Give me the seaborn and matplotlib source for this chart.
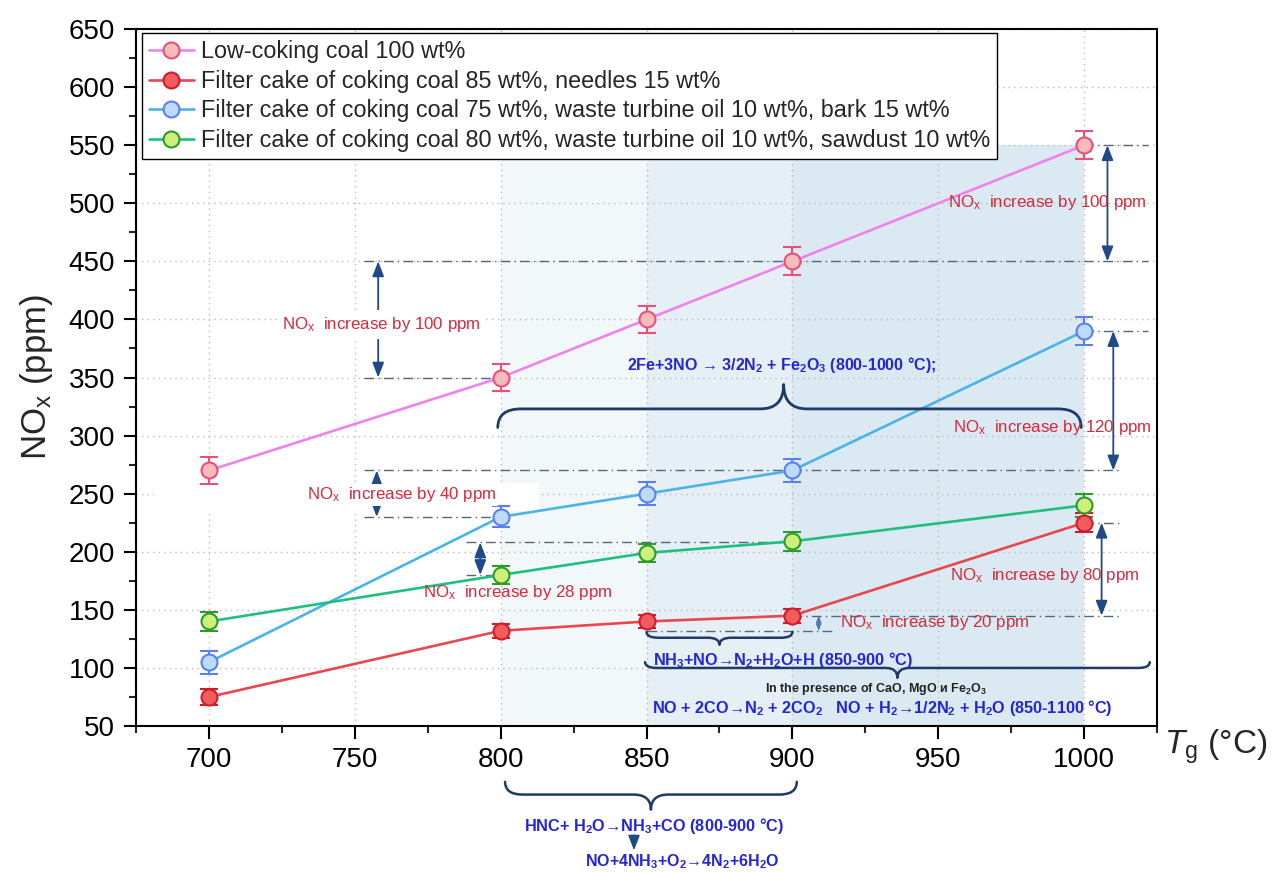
import numpy as np
import pandas as pd
import matplotlib
matplotlib.use("Agg")
import matplotlib.pyplot as plt
import seaborn as sns
from matplotlib.path import Path
from matplotlib.patches import PathPatch, Rectangle
from matplotlib.ticker import MultipleLocator

# ---------------- data ----------------
temperature = [700, 800, 850, 900, 1000]
low_coking = [270, 350, 400, 450, 550]
needles = [75, 132, 140, 145, 225]
bark = [105, 230, 250, 270, 390]
sawdust = [140, 180, 199, 209, 240]
low_coking_err = [12, 12, 12, 12, 12]
needles_err = [7, 6, 6, 6, 8]
bark_err = [10, 9, 10, 10, 12]
sawdust_err = [8, 8, 8, 8, 10]
series_labels = [
    "Low-coking coal 100 wt%",
    "Filter cake of coking coal 85 wt%, needles 15 wt%",
    "Filter cake of coking coal 75 wt%, waste turbine oil 10 wt%, bark 15 wt%",
    "Filter cake of coking coal 80 wt%, waste turbine oil 10 wt%, sawdust 10 wt%",
]
x_ticks = [700, 750, 800, 850, 900, 950, 1000]
y_ticks = list(range(50, 651, 50))

# ---------------- style ----------------
sns.set_theme(style="ticks")
plt.rcParams["font.family"] = ["Liberation Sans", "DejaVu Sans"]
plt.rcParams["mathtext.fontset"] = "custom"
plt.rcParams["mathtext.rm"] = "Liberation Sans"
plt.rcParams["mathtext.it"] = "Liberation Sans:italic"
plt.rcParams["mathtext.bf"] = "Liberation Sans:bold"
plt.rcParams["mathtext.default"] = "regular"

fig = plt.figure(figsize=(12.74, 8.72), dpi=100)
ax = fig.add_axes([0.1068, 0.1674, 0.8014, 0.7993])

ax.set_xlim(675, 1025)
ax.set_ylim(50, 650)

# shaded temperature zones
ax.fill_between([800, 850], 50, 550, color="#f2f7fa", lw=0, zorder=0.2)
ax.fill_between([850, 900], 50, 550, color="#e5eff5", lw=0, zorder=0.2)
ax.fill_between([900, 1000], 50, 550, color="#dbeaf2", lw=0, zorder=0.2)

ax.grid(True, which="major", ls=(0, (1, 3)), color="#bcbcbc", lw=1.0)
ax.set_axisbelow(True)

styles = [
    dict(line="#ee82ee", face="#f6bcbc", edge="#e8507a"),
    dict(line="#e8474f", face="#f25c5c", edge="#d01c2c"),
    dict(line="#4ab4e8", face="#bcdcff", edge="#5a80f0"),
    dict(line="#1fc07f", face="#cdf07a", edge="#2e9a2a"),
]
values = [low_coking, needles, bark, sawdust]
errors = [low_coking_err, needles_err, bark_err, sawdust_err]

for vals, errs, lab, st in zip(values, errors, series_labels, styles):
    df = pd.DataFrame({"T": temperature, "NOx": vals})
    ax.errorbar(temperature, vals, yerr=errs, fmt="none", ecolor=st["edge"],
                elinewidth=1.5, capsize=6.5, capthick=1.5, zorder=2.5)
    sns.lineplot(data=df, x="T", y="NOx", ax=ax, color=st["line"], lw=1.9,
                 marker="o", markersize=11.5, markerfacecolor=st["face"],
                 markeredgecolor=st["edge"], markeredgewidth=1.5,
                 label=lab, zorder=3)

# ---------------- reference dash-dot lines ----------------
dd = dict(color="#55657a", lw=1.0, ls=(0, (7, 3, 1, 3)), zorder=1.5)
for y, x0, x1 in [(450, 753, 1022), (350, 753, 800), (550, 1000, 1022),
                  (390, 1000, 1022), (270, 753, 1013), (230, 753, 800),
                  (208, 788, 900), (180, 788, 800), (225, 1000, 1013),
                  (145, 900, 1013), (132, 850, 915)]:
    ax.hlines(y, x0, x1, **dd)

# ---------------- double arrows ----------------
navy = "#1f4a85"
def darrow(x, y0, y1, small=False):
    if small:
        props = dict(arrowstyle="<|-|>,head_length=0.5,head_width=0.2",
                     color="#4a78b0", lw=0.8, shrinkA=0, shrinkB=0,
                     mutation_scale=8)
    else:
        props = dict(arrowstyle="<|-|>,head_length=0.9,head_width=0.35",
                     color=navy, lw=1.3, shrinkA=0, shrinkB=0,
                     mutation_scale=10)
    ax.annotate("", xy=(x, y1), xytext=(x, y0), arrowprops=props, zorder=4)

darrow(758, 350, 450)
darrow(1008, 450, 550)
darrow(1010, 270, 390)
darrow(757.5, 230, 270)
darrow(793, 180, 208)
darrow(1006, 145, 225)
darrow(909, 132, 145, small=True)

# ---------------- red annotation texts ----------------
red = "#d42a3c"
rt = dict(color=red, fontsize=12.2, ha="center", va="center", zorder=5)
ax.text(759, 396, "NO$_x$  increase by 100 ppm",
        bbox=dict(boxstyle="square,pad=0.3", fc="white", ec="none"), **rt)
# white label box behind the 40 ppm note (below the data lines)
ax.add_patch(Rectangle((681, 235), 132, 24, fc="white", ec="none", zorder=1.6))
ax.text(766, 249, "NO$_x$  increase by 40 ppm",
        bbox=dict(boxstyle="square,pad=0.08", fc="white", ec="none"), **rt)
ax.text(987.5, 501, "NO$_x$  increase by 100 ppm", **rt)
ax.text(989, 306.6, "NO$_x$  increase by 120 ppm", **rt)
ax.text(805.8, 164.6, "NO$_x$  increase by 28 ppm", **rt)
ax.text(986.3, 180, "NO$_x$  increase by 80 ppm", **rt)
ax.text(948.9, 138.8, "NO$_x$  increase by 20 ppm", **rt)

# ---------------- braces ----------------
brace_color = "#1f3a66"
def brace(x0, x1, y_end, y_mid, y_tip, xc=None, rx=6, clip=True, lw=2.0):
    if xc is None:
        xc = (x0 + x1) / 2
    verts = [(x0, y_end), (x0, y_mid), (x0 + rx, y_mid),
             (xc - rx, y_mid), (xc, y_mid), (xc, y_tip),
             (xc, y_mid), (xc + rx, y_mid),
             (x1 - rx, y_mid), (x1, y_mid), (x1, y_end)]
    codes = [Path.MOVETO, Path.CURVE3, Path.CURVE3,
             Path.LINETO, Path.CURVE3, Path.CURVE3,
             Path.CURVE3, Path.CURVE3,
             Path.LINETO, Path.CURVE3, Path.CURVE3]
    p = PathPatch(Path(verts, codes), fill=False, ec=brace_color, lw=lw,
                  transform=ax.transData, zorder=4, clip_on=clip,
                  capstyle="round", joinstyle="round")
    ax.add_patch(p)

brace(799, 999, 307, 323, 344, xc=897, rx=8)
brace(850, 900, 131, 126, 120, rx=4, lw=1.8)
brace(849.5, 1022.5, 105, 100, 91.5, xc=936, rx=4, lw=1.8)
brace(801.5, 901.5, 2, -9, -22, rx=6, clip=False, lw=1.8)

# ---------------- blue equations ----------------
blue = "#2424d8"
bt = dict(color=blue, fontsize=11.5, fontweight="bold", ha="center",
          va="center", zorder=5)
ax.text(896.4, 360.8, "2Fe+3NO → 3/2N$_2$ + Fe$_2$O$_3$ (800-1000 °C);", **bt)
ax.text(852.2, 107, "NH$_3$+NO→N$_2$+H$_2$O+H (850-900 °C)",
        **{**bt, "ha": "left", "fontsize": 11.7})
ax.text(928.7, 82, "In the presence of CaO, MgO и Fe$_2$O$_3$",
        color="#222222", fontsize=9, fontweight="bold", ha="center",
        va="center", zorder=5)
ax.text(930.9, 65.6,
        "NO + 2CO→N$_2$ + 2CO$_2$   NO + H$_2$→1/2N$_2$ + H$_2$O (850-1100 °C)",
        **{**bt, "fontsize": 11.7})
ax.text(852.6, -35.9, "HNC+ H$_2$O→NH$_3$+CO (800-900 °C)",
        clip_on=False, **{**bt, "fontsize": 11.7})
ax.text(862.3, -66.5, "NO+4NH$_3$+O$_2$→4N$_2$+6H$_2$O",
        clip_on=False, **{**bt, "fontsize": 11.5})
ax.annotate("", xy=(845.7, -57), xytext=(845.7, -44),
            arrowprops=dict(arrowstyle="-|>,head_length=0.9,head_width=0.35",
                            color=navy, lw=1.2, shrinkA=0, shrinkB=0,
                            mutation_scale=10),
            annotation_clip=False)

# ---------------- axes formatting ----------------
ax.xaxis.set_major_locator(MultipleLocator(50))
ax.xaxis.set_minor_locator(MultipleLocator(25))
ax.yaxis.set_major_locator(MultipleLocator(50))
ax.yaxis.set_minor_locator(MultipleLocator(25))
ax.set_xticks(x_ticks)
ax.set_yticks(y_ticks)
ax.tick_params(which="major", direction="out", length=9, width=1.5,
               labelsize=20, colors="black", pad=6)
ax.tick_params(which="minor", direction="out", length=5, width=1.5)
ax.tick_params(top=False, right=False, which="both")
for s in ax.spines.values():
    s.set_visible(True)
    s.set_linewidth(1.5)
    s.set_color("black")

ax.set_xlabel("")
ax.set_ylabel("NO$_x$ (ppm)", fontsize=25, labelpad=10)
ax.text(1.007, -0.03, r"$\mathit{T}_g$ (°C)", transform=ax.transAxes,
        fontsize=24, ha="left", va="center")

leg = ax.legend(loc="upper left", bbox_to_anchor=(0.006, 0.994),
                borderaxespad=0, frameon=True, fancybox=False,
                edgecolor="black", framealpha=1, fontsize=16.8,
                labelspacing=0.28, handlelength=1.9, handletextpad=0.3,
                borderpad=0.3)
leg.get_frame().set_linewidth(1.0)

fig.savefig("out.png", dpi=100, facecolor="white")
